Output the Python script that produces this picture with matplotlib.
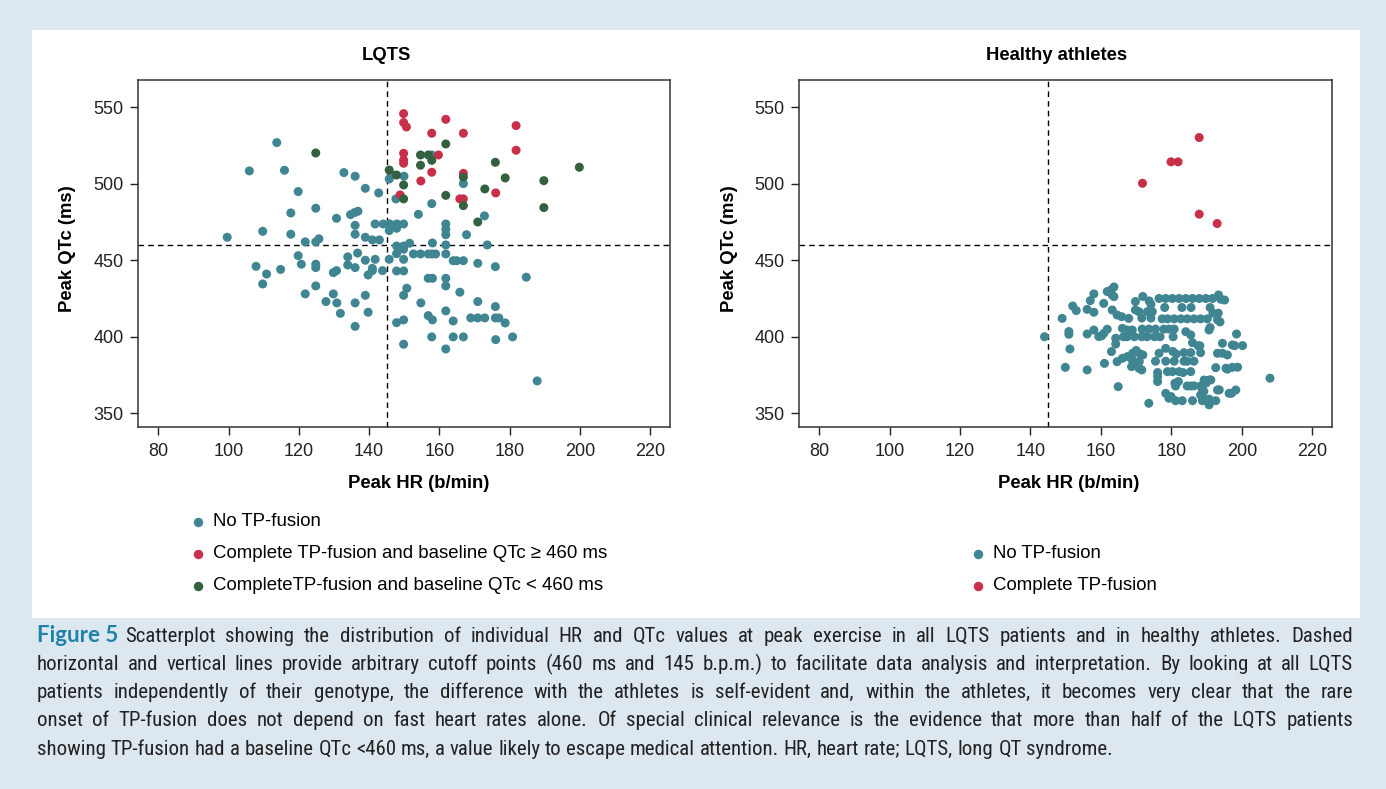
import matplotlib.pyplot as plt
import matplotlib.lines as mlines
import matplotlib.patches as mpatches
from matplotlib import font_manager as fm
import numpy as np

plt.rcParams['font.family'] = ['Liberation Sans', 'DejaVu Sans']

# LQTS patients: (peak HR, peak QTc)
lqts_no_fusion = [
    (113.7, 526.9), (105.9, 508.4), (115.9, 508.8), (132.8, 507.3), (136.0, 504.9), (119.8, 494.9),
    (138.9, 497.0), (142.7, 494.0), (124.8, 484.0), (117.7, 480.9), (130.7, 477.4), (134.7, 479.8),
    (135.8, 481.1), (136.8, 482.0), (136.0, 472.8), (141.7, 473.7), (144.0, 473.7), (145.9, 473.7),
    (147.9, 473.7), (149.8, 473.7), (145.7, 469.4), (147.8, 470.9), (99.6, 465.0), (109.7, 468.9),
    (117.7, 467.0), (136.0, 467.0), (138.9, 465.0), (140.9, 463.3), (142.9, 463.3), (121.8, 462.0),
    (124.8, 462.0), (125.7, 464.0), (147.8, 459.3), (149.8, 459.3), (151.5, 461.1), (149.8, 457.2),
    (119.8, 453.0), (120.7, 447.4), (124.8, 447.4), (124.8, 445.2), (107.8, 446.0), (114.8, 444.0),
    (110.8, 441.0), (109.7, 434.5), (133.9, 452.2), (136.7, 454.7), (138.9, 450.0), (141.7, 450.6),
    (145.7, 450.6), (147.8, 454.3), (149.8, 450.6), (133.9, 446.9), (136.0, 445.2), (129.8, 441.9),
    (130.7, 443.2), (140.9, 444.7), (140.9, 443.2), (139.7, 440.4), (143.8, 443.2), (147.8, 443.0),
    (149.8, 443.0), (124.8, 433.2), (121.8, 428.0), (129.8, 428.0), (127.7, 423.0), (130.8, 422.1),
    (136.0, 422.1), (138.9, 427.1), (150.7, 431.7), (149.8, 427.1), (131.8, 415.3), (139.7, 416.0),
    (147.8, 409.2), (149.8, 411.0), (136.0, 406.8), (149.8, 395.1), (146.7, 505.7), (149.9, 504.9),
    (145.7, 503.1), (147.6, 490.1), (157.8, 518.8), (166.8, 500.1), (157.8, 487.0), (154.0, 480.0),
    (172.8, 479.0), (161.8, 473.7), (161.8, 470.2), (161.8, 466.7), (167.7, 466.7), (158.0, 461.3),
    (161.8, 460.0), (173.6, 460.0), (152.6, 454.1), (154.6, 454.1), (156.8, 454.1), (157.8, 454.1),
    (158.9, 454.1), (161.8, 454.1), (163.9, 449.7), (164.9, 449.7), (166.8, 449.7), (170.9, 448.0),
    (175.9, 445.8), (184.7, 438.9), (156.8, 438.2), (158.0, 438.2), (161.8, 438.2), (161.8, 433.2),
    (165.8, 429.1), (154.7, 422.1), (170.9, 423.0), (175.9, 419.7), (161.8, 416.9), (156.8, 413.8),
    (158.0, 411.0), (163.9, 410.3), (168.9, 412.3), (170.9, 412.3), (172.9, 412.3), (175.9, 412.3),
    (176.9, 412.3), (178.7, 409.0), (157.8, 399.9), (163.9, 399.9), (166.8, 399.9), (176.0, 398.1),
    (180.8, 399.9), (161.8, 392.0), (187.8, 371.1),
]
lqts_fusion_high = [
    (149.8, 545.8), (149.8, 540.0), (150.6, 537.1), (149.8, 519.9), (149.8, 515.5), (149.8, 513.4),
    (148.8, 492.7), (161.8, 542.1), (157.8, 533.0), (166.8, 533.0), (181.8, 538.0), (181.8, 521.9),
    (159.7, 518.8), (157.8, 507.5), (166.8, 506.8), (154.7, 501.8), (176.0, 494.0), (165.8, 490.1),
    (166.8, 490.1),
]
lqts_fusion_low = [
    (124.8, 520.1), (145.7, 509.0), (147.8, 505.7), (149.8, 499.2), (149.8, 490.1), (161.8, 526.0),
    (154.6, 518.8), (156.8, 518.8), (157.8, 515.3), (154.6, 512.1), (175.9, 514.0), (199.8, 510.8),
    (166.8, 504.4), (178.7, 503.8), (189.7, 502.0), (172.9, 496.6), (161.8, 492.4), (166.8, 485.7),
    (189.7, 484.4), (170.9, 475.0),
]

# healthy athletes
ath_no_fusion = [
    (144.0, 400.0), (149.0, 412.0), (150.9, 403.4), (150.9, 401.6), (151.2, 392.0), (149.9, 380.0),
    (152.0, 420.1), (153.0, 417.1), (156.1, 417.9), (158.0, 416.0), (157.0, 423.6), (158.0, 428.0),
    (161.8, 429.5), (162.8, 430.5), (163.7, 432.5), (163.2, 427.3), (163.7, 426.2), (160.8, 421.8),
    (163.2, 417.5), (164.6, 414.2), (165.9, 413.1), (167.9, 412.0), (169.8, 417.5), (169.8, 423.0),
    (166.1, 405.5), (167.5, 404.4), (168.9, 404.4), (156.1, 401.8), (158.0, 404.4), (159.4, 400.1),
    (160.2, 400.6), (160.8, 402.2), (161.8, 404.9), (164.2, 399.0), (164.2, 395.2), (166.4, 400.0),
    (167.4, 400.0), (169.5, 400.0), (163.0, 390.3), (161.0, 382.6), (156.1, 378.3), (164.6, 383.7),
    (166.1, 385.9), (167.5, 387.0), (168.9, 384.8), (169.9, 382.6), (168.7, 380.5), (169.0, 389.2),
    (164.9, 367.4),
    (171.9, 426.3), (173.7, 423.4), (174.2, 421.2), (176.5, 425.0), (178.4, 425.0), (180.3, 425.0),
    (182.2, 425.0), (184.1, 425.0), (186.0, 425.0), (187.9, 425.0), (189.8, 425.0), (191.7, 425.0),
    (193.4, 427.3), (194.0, 424.5), (195.1, 424.0), (178.1, 419.1), (183.0, 419.1), (185.6, 419.1),
    (191.0, 419.1), (170.8, 416.4), (173.2, 416.4), (174.6, 416.4), (191.8, 415.4), (193.3, 415.4),
    (171.6, 412.2), (174.2, 412.2), (177.4, 411.7), (178.9, 411.7), (180.8, 411.7), (182.7, 411.7),
    (184.5, 411.7), (186.4, 411.7), (188.3, 411.7), (190.2, 411.7), (193.1, 411.0), (193.8, 409.7),
    (171.7, 405.0), (173.6, 405.0), (175.5, 405.0), (177.9, 405.0), (179.3, 405.0), (180.8, 405.0),
    (184.1, 403.3), (185.5, 401.2), (190.7, 404.4), (191.0, 406.0), (171.6, 400.0), (173.1, 400.0),
    (175.2, 400.0), (176.8, 400.0), (180.5, 400.0), (198.5, 401.8), (186.0, 396.1), (187.6, 394.1),
    (188.1, 394.1), (194.5, 395.7), (197.3, 394.6), (200.2, 394.2), (198.0, 394.2), (170.0, 391.0),
    (171.1, 388.8), (171.9, 388.1), (176.5, 389.2), (178.4, 392.4), (180.4, 390.4), (181.4, 388.7),
    (183.6, 389.6), (185.5, 389.6), (188.3, 389.6), (193.1, 389.2), (194.5, 389.2), (195.9, 388.1),
    (170.9, 383.8), (175.5, 384.0), (178.4, 384.0), (180.8, 384.0), (183.6, 384.0), (184.5, 384.0),
    (186.4, 384.0), (170.8, 379.4), (171.6, 378.3), (192.6, 379.8), (195.5, 379.4), (197.3, 380.0),
    (198.8, 380.1), (195.9, 378.8), (176.1, 376.6), (178.9, 377.2), (180.3, 377.2), (182.2, 377.2),
    (183.3, 376.6), (185.5, 377.2), (176.1, 373.9), (189.3, 371.7), (190.7, 371.7), (191.2, 371.8),
    (189.8, 369.6), (176.1, 370.7), (181.0, 369.6), (182.0, 370.7), (181.2, 367.8), (184.5, 367.8),
    (185.5, 367.8), (186.4, 367.9), (188.3, 367.8), (188.8, 365.2), (189.2, 364.2), (193.1, 365.2),
    (193.6, 365.3), (198.3, 365.2), (196.4, 363.0), (197.1, 363.1), (178.4, 363.0), (179.9, 360.9),
    (179.3, 359.8), (181.2, 358.2), (183.1, 358.2), (186.0, 358.2), (188.8, 358.2), (188.3, 361.9),
    (188.8, 360.4), (190.7, 359.2), (192.6, 358.2), (190.7, 355.5), (173.6, 356.5), (208.0, 372.9),
]
ath_fusion = [(187.9, 530.2), (179.9, 514.3), (181.9, 514.3), (171.8, 500.3), (187.9, 480.1), (193.0, 474.0)]

left_legend = ['No TP-fusion', 'Complete TP-fusion and baseline QTc \u2265 460 ms',
               'CompleteTP-fusion and baseline QTc < 460 ms']
right_legend = ['No TP-fusion', 'Complete TP-fusion']

caption_lines = [
    'Scatterplot showing the distribution of individual HR and QTc values at peak exercise in all LQTS patients and in healthy athletes. Dashed',
    'horizontal and vertical lines provide arbitrary cutoff points (460 ms and 145 b.p.m.) to facilitate data analysis and interpretation. By looking at all LQTS',
    'patients independently of their genotype, the difference with the athletes is self-evident and, within the athletes, it becomes very clear that the rare',
    'onset of TP-fusion does not depend on fast heart rates alone. Of special clinical relevance is the evidence that more than half of the LQTS patients',
    'showing TP-fusion had a baseline QTc <460 ms, a value likely to escape medical attention. HR, heart rate; LQTS, long QT syndrome.',
]

TEAL = '#408592'
RED = '#c8304a'
GREEN = '#33603f'

W, H = 1386, 789
fig = plt.figure(figsize=(W / 100, H / 100), dpi=100)
fig.patch.set_facecolor('#dde7f0')


def fx(px):
    return px / W


def fy(py):
    return 1 - py / H


fig.add_artist(mpatches.Rectangle((fx(32), fy(618)), (1360 - 32) / W, (618 - 30) / H,
                                  transform=fig.transFigure, facecolor='white',
                                  edgecolor='none', zorder=0))


def setup(ax):
    ax.set_xlim(74.3, 225.6)
    ax.set_ylim(341.2, 567.8)
    ax.set_xticks(range(80, 221, 20))
    ax.set_yticks(range(350, 551, 50))
    ax.tick_params(direction='out', length=5.5, width=1, colors='#222', labelsize=13, pad=5)
    ax.tick_params(axis='x', pad=6)
    for s in ax.spines.values():
        s.set_linewidth(1.1)
        s.set_color('#333333')
    ax.axvline(145, color='black', ls=(0, (4, 3)), lw=1, zorder=1)
    ax.axhline(460, color='black', ls=(0, (4, 3)), lw=1, zorder=1)


def dots(ax, pts, color):
    a = np.array(pts)
    ax.scatter(a[:, 0], a[:, 1], s=42, color=color, edgecolors='none', zorder=3)


ax1 = fig.add_axes([fx(138.3), fy(426.7), 531.7 / W, 346.7 / H])
setup(ax1)
dots(ax1, lqts_no_fusion, TEAL)
dots(ax1, lqts_fusion_high, RED)
dots(ax1, lqts_fusion_low, GREEN)

ax2 = fig.add_axes([fx(799.0), fy(426.7), 533.0 / W, 346.7 / H])
setup(ax2)
dots(ax2, ath_no_fusion, TEAL)
dots(ax2, ath_fusion, RED)

lab = dict(fontsize=13.3, fontweight='bold', ha='center', va='center', color='black')
fig.text(fx(386), fy(55), 'LQTS', **lab)
fig.text(fx(1057), fy(55), 'Healthy athletes', **lab)
fig.text(fx(419), fy(483), 'Peak HR (b/min)', **lab)
fig.text(fx(1069), fy(483), 'Peak HR (b/min)', **lab)
fig.text(fx(67), fy(249), 'Peak QTc (ms)', rotation=90, **lab)
fig.text(fx(730), fy(249), 'Peak QTc (ms)', rotation=90, **lab)


def legend_rows(x, ys, labels, colors):
    for y, t, c in zip(ys, labels, colors):
        fig.add_artist(mlines.Line2D([fx(x)], [fy(y)], marker='o', ms=6.8, color=c,
                                     mec='none', transform=fig.transFigure))
        fig.text(fx(x + 15), fy(y), t, fontsize=13.4, ha='left', va='center')


legend_rows(198, [522, 554, 586], left_legend, [TEAL, RED, GREEN])
legend_rows(978, [554, 586], right_legend, [TEAL, RED])

# caption font: a narrow face if one is installed
cap_font = ['Lato', 'DejaVu Sans']
names = {f.name for f in fm.fontManager.ttflist}
if 'Roboto Condensed' in names:
    cap_font = ['Roboto Condensed', 'DejaVu Sans']
elif 'Liberation Sans Narrow' in names:
    cap_font = ['Liberation Sans Narrow', 'DejaVu Sans']

r = fig.canvas.get_renderer()
left_px, right_px = 37, 1353
baselines = [642, 670, 698, 726, 755]
head = fig.text(fx(left_px), fy(baselines[0]), 'Figure 5', family=['Lato', 'DejaVu Sans'],
                fontsize=16, fontweight='bold', color='#1e82a8', ha='left', va='baseline')
head_w = head.get_window_extent(r).width + 7


def width_of(s, size):
    t = fig.text(0, 0, s, family=cap_font, fontsize=size)
    w = t.get_window_extent(r).width
    t.remove()
    return w


# shrink the font until every line fits the column with a modest word gap
fs = 15.0
while True:
    widths = [width_of(l, fs) + (head_w if i == 0 else 0) + 1.5 * len(l.split())
              for i, l in enumerate(caption_lines)]
    if max(widths) <= right_px - left_px:
        break
    fs -= 0.1

space_w = width_of('a b', fs) - width_of('ab', fs)
for i, line in enumerate(caption_lines):
    x0 = left_px + (head_w if i == 0 else 0)
    words = line.split(' ')
    ww = [width_of(w, fs) for w in words]
    if i < len(caption_lines) - 1:
        gap = (right_px - x0 - sum(ww)) / (len(words) - 1)
    else:
        gap = space_w
    x = x0
    for w, wd in zip(words, ww):
        fig.text(fx(x), fy(baselines[i]), w, family=cap_font, fontsize=fs,
                 color='#222222', ha='left', va='baseline')
        x += wd + gap

fig.savefig('out.png', dpi=100, facecolor=fig.get_facecolor())
